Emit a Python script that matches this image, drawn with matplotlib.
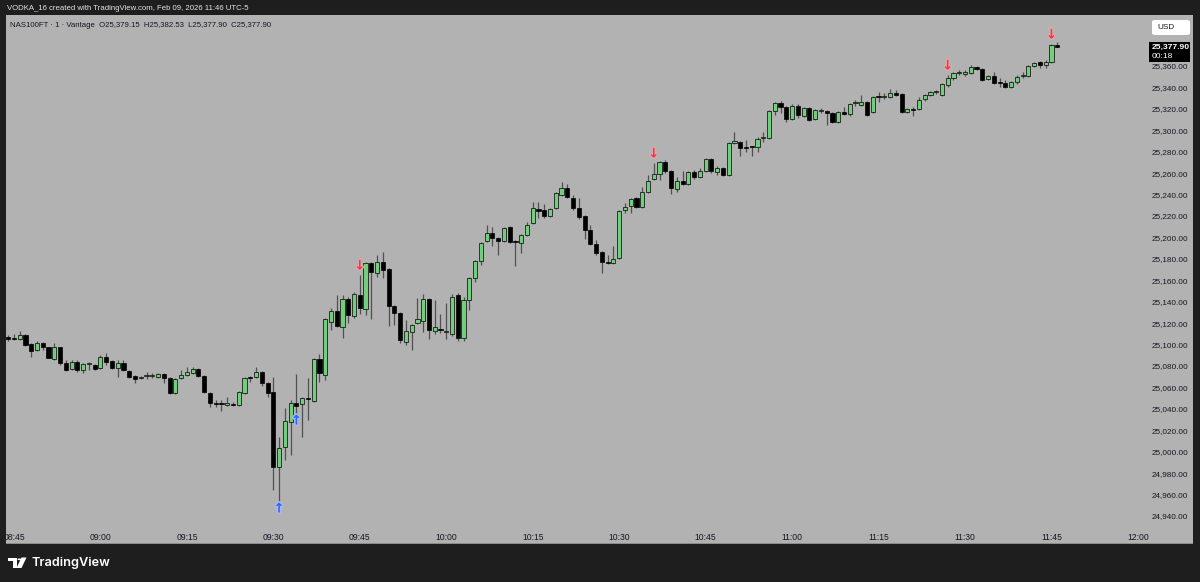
import numpy as np
import matplotlib
matplotlib.use("Agg")
from matplotlib import pyplot as plt
from matplotlib.patches import Rectangle, FancyBboxPatch, Polygon, Circle
import matplotlib.patheffects as pe

# NAS100FT 1 minute candles, 08:44 -> 11:46
start_label = "08:44"
opens = [25107.1, 25105.5, 25105.0, 25109.0, 25100.5, 25095.0, 25101.5, 25097.7, 25086.5, 25097.7,
         25082.8, 25077.2, 25083.7, 25076.3, 25081.9, 25081.0, 25078.1, 25088.4, 25084.7, 25078.1,
         25082.8, 25075.4, 25070.7, 25068.8, 25070.7, 25070.5, 25069.7, 25072.5, 25068.8, 25054.8,
         25068.8, 25071.6, 25073.5, 25077.2, 25070.7, 25054.8, 25045.5, 25044.6, 25043.6, 25043.8,
         25043.6, 25054.8, 25069.7, 25069.7, 25074.4, 25064.1, 25055.7, 24985.7, 25004.4, 25027.7,
         25045.5, 25044.5, 25049.5, 25047.3, 25086.5, 25071.6, 25121.1, 25131.3, 25116.4, 25142.5,
         25126.7, 25146.3, 25133.2, 25176.1, 25166.8, 25177.0, 25170.5, 25136.0, 25129.5, 25102.4,
         25111.7, 25120.1, 25122.0, 25142.5, 25112.7, 25113.8, 25111.6, 25109.9, 25146.3, 25106.1,
         25141.6, 25162.1, 25178.0, 25196.7, 25204.1, 25199.5, 25196.7, 25209.7, 25196.7, 25194.8,
         25202.3, 25213.5, 25226.5, 25225.6, 25220.0, 25227.5, 25239.6, 25246.1, 25236.8, 25227.5,
         25220.0, 25206.9, 25193.9, 25186.4, 25176.3, 25176.1, 25180.8, 25225.6, 25229.3, 25236.8,
         25228.4, 25242.4, 25254.5, 25259.2, 25270.4, 25262.0, 25245.2, 25252.7, 25249.9, 25261.1,
         25256.4, 25262.0, 25273.2, 25261.1, 25264.8, 25258.3, 25288.1, 25289.0, 25283.6, 25284.6,
         25284.4, 25292.7, 25292.8, 25318.0, 25325.5, 25321.7, 25310.5, 25322.7, 25313.3, 25320.8,
         25310.5, 25318.0, 25318.0, 25316.1, 25307.7, 25317.0, 25315.2, 25325.3, 25323.6, 25326.4,
         25317.0, 25331.2, 25331.0, 25331.1, 25334.8, 25333.9, 25317.0, 25319.1, 25319.9, 25329.2,
         25332.9, 25335.6, 25332.9, 25342.3, 25348.8, 25353.9, 25352.5, 25353.5, 25359.1, 25357.2,
         25347.9, 25350.7, 25344.2, 25344.1, 25340.4, 25345.1, 25350.6, 25350.7, 25360.0, 25363.7,
         25360.9, 25363.7, 25379.15]
highs = [25109.0, 25110.0, 25112.6, 25110.0, 25101.0, 25103.0, 25102.0, 25098.0, 25101.5, 25098.0,
         25085.6, 25085.6, 25085.6, 25083.0, 25083.7, 25082.0, 25090.3, 25092.1, 25085.6, 25085.6,
         25085.6, 25076.3, 25071.6, 25070.7, 25074.4, 25073.5, 25073.5, 25073.5, 25069.7, 25068.8,
         25076.3, 25079.1, 25079.1, 25078.1, 25071.6, 25055.7, 25048.3, 25048.3, 25051.1, 25046.4,
         25056.6, 25069.7, 25070.2, 25079.1, 25075.4, 25065.0, 25069.7, 25013.7, 25040.8, 25048.3,
         25072.5, 25051.0, 25068.8, 25087.4, 25091.2, 25124.8, 25134.1, 25146.3, 25146.3, 25144.4,
         25149.1, 25164.9, 25177.0, 25177.0, 25183.6, 25186.4, 25171.4, 25136.9, 25130.4, 25122.9,
         25119.2, 25143.5, 25147.2, 25143.5, 25141.6, 25128.5, 25138.8, 25147.2, 25148.1, 25144.4,
         25163.0, 25179.0, 25195.7, 25211.6, 25209.7, 25200.4, 25209.7, 25210.6, 25197.6, 25203.2,
         25214.4, 25233.1, 25233.1, 25231.2, 25227.5, 25242.4, 25251.7, 25249.9, 25239.6, 25236.8,
         25221.0, 25211.6, 25197.6, 25187.4, 25183.6, 25192.0, 25225.6, 25232.1, 25236.8, 25237.7,
         25247.1, 25258.3, 25269.5, 25271.3, 25272.3, 25262.9, 25256.4, 25262.0, 25262.0, 25262.9,
         25264.8, 25274.1, 25274.1, 25266.7, 25265.7, 25289.0, 25298.4, 25290.0, 25290.9, 25285.4,
         25293.7, 25298.4, 25318.9, 25326.4, 25327.3, 25322.6, 25324.5, 25324.5, 25321.7, 25321.7,
         25319.9, 25320.8, 25318.9, 25317.0, 25318.0, 25321.7, 25325.5, 25328.3, 25332.9, 25327.3,
         25332.0, 25335.7, 25334.8, 25338.5, 25338.0, 25334.8, 25320.8, 25321.7, 25331.1, 25334.0,
         25336.7, 25337.6, 25344.1, 25351.6, 25354.4, 25356.3, 25356.3, 25360.9, 25359.6, 25358.1,
         25351.6, 25354.4, 25348.8, 25347.0, 25346.0, 25351.6, 25354.4, 25360.9, 25363.7, 25364.7,
         25365.6, 25380.5, 25382.53]
lows = [25103.3, 25104.0, 25104.0, 25099.0, 25088.4, 25094.0, 25095.0, 25087.0, 25086.0, 25081.0,
        25075.5, 25076.3, 25074.4, 25073.5, 25076.3, 25076.3, 25077.2, 25081.0, 25077.2, 25069.7,
        25075.4, 25068.8, 25064.1, 25067.9, 25067.9, 25068.8, 25068.8, 25064.1, 25053.9, 25053.9,
        25067.9, 25070.7, 25072.5, 25069.7, 25054.8, 25041.8, 25041.8, 25038.0, 25042.7, 25042.7,
        25042.7, 25053.9, 25065.1, 25069.0, 25061.3, 25051.1, 24964.3, 24954.0, 24992.3, 24996.9,
        25036.1, 25013.7, 25029.6, 25046.4, 25065.1, 25066.9, 25113.6, 25116.4, 25106.1, 25120.1,
        25124.8, 25128.5, 25127.6, 25123.9, 25163.0, 25162.1, 25117.3, 25118.3, 25101.5, 25099.6,
        25094.9, 25119.2, 25111.7, 25105.2, 25109.9, 25110.8, 25105.2, 25108.0, 25103.3, 25103.3,
        25132.3, 25158.4, 25174.3, 25195.7, 25192.0, 25183.6, 25195.7, 25194.8, 25173.3, 25185.5,
        25201.3, 25212.5, 25218.1, 25218.1, 25219.1, 25226.5, 25238.7, 25236.8, 25225.6, 25217.2,
        25198.5, 25192.9, 25183.6, 25166.8, 25175.2, 25175.2, 25179.9, 25222.8, 25222.8, 25227.5,
        25227.5, 25241.5, 25253.6, 25253.6, 25260.1, 25240.5, 25242.4, 25249.0, 25249.0, 25254.5,
        25255.5, 25261.1, 25260.1, 25258.3, 25257.3, 25257.3, 25287.2, 25276.0, 25279.7, 25276.0,
        25279.7, 25289.0, 25291.9, 25314.3, 25316.1, 25307.7, 25309.6, 25311.5, 25312.4, 25308.6,
        25309.6, 25316.1, 25304.9, 25306.8, 25306.8, 25314.3, 25313.3, 25322.7, 25322.7, 25313.3,
        25316.1, 25326.4, 25329.2, 25330.1, 25332.0, 25316.1, 25316.1, 25313.3, 25318.9, 25327.3,
        25332.0, 25333.9, 25332.0, 25340.4, 25346.9, 25351.6, 25350.7, 25352.5, 25356.3, 25346.0,
        25347.0, 25343.2, 25340.4, 25339.5, 25339.5, 25343.2, 25348.8, 25349.7, 25359.1, 25358.1,
        25358.1, 25362.8, 25377.90]
closes = [25105.2, 25105.0, 25109.0, 25099.6, 25094.0, 25101.5, 25097.7, 25087.5, 25097.7, 25082.8,
          25076.3, 25083.7, 25076.3, 25081.9, 25082.1, 25077.2, 25088.4, 25083.7, 25078.1, 25082.8,
          25076.3, 25069.7, 25067.9, 25069.7, 25070.8, 25070.9, 25072.5, 25068.8, 25054.8, 25067.9,
          25071.6, 25074.4, 25077.2, 25070.7, 25055.7, 25045.5, 25044.5, 25044.4, 25045.5, 25043.6,
          25055.7, 25068.8, 25069.2, 25074.4, 25064.1, 25054.8, 24985.7, 25003.5, 25028.7, 25045.5,
          25042.7, 25050.1, 25049.0, 25086.5, 25073.5, 25123.9, 25131.3, 25117.3, 25142.5, 25127.6,
          25147.2, 25134.1, 25176.1, 25167.7, 25177.0, 25169.6, 25136.0, 25129.5, 25104.3, 25112.7,
          25118.3, 25123.9, 25142.5, 25113.6, 25116.4, 25113.4, 25111.8, 25144.4, 25106.1, 25141.6,
          25162.1, 25178.0, 25194.8, 25204.1, 25199.5, 25196.7, 25208.8, 25195.7, 25195.7, 25202.3,
          25211.6, 25227.5, 25224.7, 25220.0, 25226.5, 25241.5, 25246.1, 25237.7, 25227.5, 25219.1,
          25206.9, 25193.9, 25185.5, 25177.0, 25176.0, 25179.9, 25224.7, 25228.4, 25235.9, 25228.4,
          25242.4, 25252.7, 25259.2, 25270.4, 25262.0, 25246.1, 25252.7, 25249.9, 25261.1, 25256.4,
          25262.0, 25273.2, 25262.0, 25264.8, 25258.3, 25288.1, 25290.0, 25283.5, 25283.4, 25284.2,
          25291.9, 25292.9, 25318.0, 25325.5, 25321.7, 25310.5, 25322.7, 25314.3, 25320.8, 25309.6,
          25318.9, 25318.1, 25316.1, 25307.7, 25317.0, 25315.2, 25324.5, 25325.6, 25326.4, 25314.3,
          25331.1, 25331.0, 25331.3, 25334.8, 25332.9, 25317.0, 25319.9, 25318.9, 25328.3, 25332.9,
          25335.7, 25335.8, 25343.2, 25348.8, 25353.5, 25354.2, 25354.4, 25359.1, 25357.2, 25346.9,
          25350.7, 25344.1, 25344.0, 25340.4, 25345.1, 25349.7, 25350.8, 25360.0, 25362.8, 25360.9,
          25363.7, 25379.2, 25377.90]

# signal markers (candle index)
buy_idx = [47, 50]
sell_idx = [61, 112, 163, 181]

# time axis
tick_idx = [1, 16, 31, 46, 61, 76, 91, 106, 121, 136, 151, 166, 181, 196]
tick_lbl = ["08:45", "09:00", "09:15", "09:30", "09:45", "10:00", "10:15", "10:30",
            "10:45", "11:00", "11:15", "11:30", "11:45", "12:00"]
price_ticks = list(range(24940, 25381, 20))

last_price = "25,377.90"
countdown = "00:18"
header = "VODKA_16 created with TradingView.com, Feb 09, 2026 11:46 UTC-5"
legend_txt = "NAS100FT \u00b7 1 \u00b7 Vantage  O25,379.15  H25,382.53  L25,377.90  C25,377.90"

W, H = 1200, 582
DARK = "#1e1e1e"
GREY = "#b2b2b2"
GREEN = "#72cd7c"
WICK = "#505050"
TXT = "#131722"
SANS = ["Liberation Sans", "DejaVu Sans"]

fig = plt.figure(figsize=(W / 100, H / 100), dpi=100)
fig.patch.set_facecolor(DARK)


def fx(px):
    return px / W


def fy(py):
    return 1 - py / H


# grey chart panel
fig.patches.append(Rectangle((fx(6), fy(543)), fx(1193) - fx(6), fy(15) - fy(543),
                             transform=fig.transFigure, facecolor=GREY, edgecolor="none", zorder=-5))
fig.patches.append(Rectangle((fx(6), fy(543.5)), fx(1193) - fx(6), 1 / H,
                             transform=fig.transFigure, facecolor="#8c8c8c", edgecolor="none", zorder=-4))

ax = fig.add_axes([fx(6), fy(527), fx(1143) - fx(6), fy(15) - fy(527)])
ax.set_facecolor("none")
for s in ax.spines.values():
    s.set_visible(False)

o = np.array(opens)
h = np.array(highs)
l = np.array(lows)
c = np.array(closes)
x = np.arange(len(o))
up = c >= o

ax.vlines(x, l, h, color=WICK, lw=0.9, zorder=1)
ax.bar(x, np.maximum(np.abs(c - o), 0.8), bottom=np.minimum(o, c), width=0.72,
       color=[GREEN if u else "black" for u in up], edgecolor="black", linewidth=0.5, zorder=2)

halo = [pe.withStroke(linewidth=2.2, foreground="#dba7ae")]
for i in sell_idx:
    ax.annotate("\u2193", (i, h[i]), xytext=(0, 9), textcoords="offset pixels",
                ha="center", va="center", fontsize=9.5, color="#f23645", fontweight="bold",
                family=["DejaVu Sans"], path_effects=halo, zorder=4)
halo_b = [pe.withStroke(linewidth=2.2, foreground="#aab9e6")]
for i in buy_idx:
    ax.annotate("\u2191", (i, l[i]), xytext=(0, -8), textcoords="offset pixels",
                ha="center", va="center", fontsize=9.5, color="#2962ff", fontweight="bold",
                family=["DejaVu Sans"], path_effects=halo_b, zorder=4)

ax.set_xlim(-0.382, 196.88)
ax.set_ylim(24929.7, 25407.6)

ax.set_xticks(tick_idx)
ax.set_xticklabels(tick_lbl, family=SANS, fontsize=6.2, color=TXT)
ax.tick_params(axis="x", length=0, pad=4)
ax.yaxis.tick_right()
ax.set_yticks(price_ticks)
ax.set_yticklabels([f"{p:,.2f}" for p in price_ticks], family=SANS, fontsize=5.9, color=TXT)
ax.tick_params(axis="y", length=0, pad=6.5)

# outer frame strips on top (clip the first time label)
fig.patches.append(Rectangle((0, 0), fx(6), 1, transform=fig.transFigure,
                             facecolor=DARK, edgecolor="none", zorder=5))
fig.patches.append(Rectangle((fx(1193), 0), 1 - fx(1193), 1, transform=fig.transFigure,
                             facecolor=DARK, edgecolor="none", zorder=5))

# last price box
fig.patches.append(Rectangle((fx(1149), fy(61.5)), fx(1190) - fx(1149), fy(41.5) - fy(61.5),
                             transform=fig.transFigure, facecolor="black", edgecolor="none", zorder=6))
fig.text(fx(1152), fy(47), last_price, color="white", fontsize=6.1, family=SANS,
         fontweight="bold", va="center", ha="left", zorder=7)
fig.text(fx(1152), fy(56), countdown, color="white", fontsize=6.1, family=SANS,
         va="center", ha="left", zorder=7)

# currency box
fig.patches.append(FancyBboxPatch((fx(1152), fy(35)), fx(1190) - fx(1152), fy(20) - fy(35),
                                  boxstyle="round,pad=0,rounding_size=0.003",
                                  transform=fig.transFigure, facecolor="white",
                                  edgecolor="none", zorder=6))
fig.text(fx(1157), fy(27.5), "USD", color=TXT, fontsize=5.9, family=SANS,
         va="center", ha="left", zorder=7)

# header + legend
fig.text(fx(7), fy(8), header, color="#e6e6e6", fontsize=5.6, family=SANS,
         va="center", ha="left")
fig.text(fx(10), fy(25.5), legend_txt, color=TXT, fontsize=5.6, family=SANS,
         va="center", ha="left")

# TradingView logo
fig.patches.append(Polygon([(fx(7.5), fy(557.5)), (fx(16.5), fy(557.5)), (fx(16.5), fy(568)),
                            (fx(12.5), fy(568)), (fx(12.5), fy(561)), (fx(7.5), fy(561))],
                           closed=True, transform=fig.transFigure, facecolor="white",
                           edgecolor="none", zorder=6))
fig.patches.append(Circle((fx(19.3), fy(559.3)), 1.8 / W, transform=fig.transFigure,
                          facecolor="white", edgecolor="none", zorder=6))
fig.patches.append(Polygon([(fx(21.5), fy(557.5)), (fx(26.5), fy(557.5)), (fx(21.5), fy(568)),
                            (fx(16.5), fy(568))],
                           closed=True, transform=fig.transFigure, facecolor="white",
                           edgecolor="none", zorder=6))
fig.text(fx(31), fy(563), "TradingView", color="white", fontsize=9.2,
         family=["Inter", "DejaVu Sans"], fontweight="semibold", va="center", ha="left")

fig.savefig("out.png", dpi=100, facecolor=fig.get_facecolor())
